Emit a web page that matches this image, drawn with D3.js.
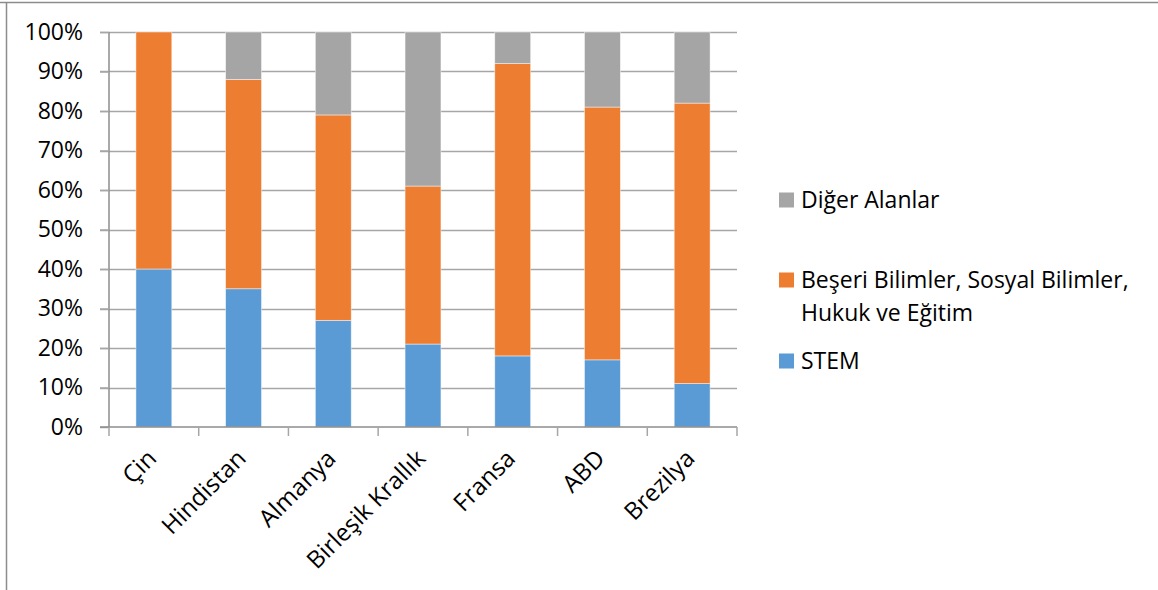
<!DOCTYPE html>
<html>
<head>
<meta charset="utf-8">
<script src="https://cdn.jsdelivr.net/npm/d3@7"></script>
<style>
  html, body { margin: 0; padding: 0; background: #fff; }
  svg { display: block; }
  text { font-family: "Open Sans", sans-serif; fill: #000; }
</style>
</head>
<body>
<div id="chart"></div>
<script>
// data, shares in percent
const countries = ["Çin", "Hindistan", "Almanya", "Birleşik Krallık", "Fransa", "ABD", "Brezilya"];
const stem = [40, 35, 27, 21, 18, 17, 11];
const beseri = [60, 53, 52, 40, 74, 64, 71];
const diger = [0, 12, 21, 39, 8, 19, 18];
const seriesNames = ["STEM", "Beşeri Bilimler, Sosyal Bilimler, Hukuk ve Eğitim", "Diğer Alanlar"];
const seriesColors = ["#5b9bd5", "#ed7d31", "#a5a5a5"];
const yTicks = [0, 10, 20, 30, 40, 50, 60, 70, 80, 90, 100];

const width = 1158, height = 590;
const margin = { top: 32, left: 109, right: 421, bottom: 163 };
const fontSize = 23;

const svg = d3.select("#chart").append("svg")
    .attr("width", width)
    .attr("height", height);

// outer frame (only top and left edges show in the shot)
svg.append("line").attr("x1", 0).attr("x2", width).attr("y1", 2.5).attr("y2", 2.5)
    .attr("stroke", "#8c8c8c").attr("stroke-width", 1.5);
svg.append("line").attr("x1", 6.5).attr("x2", 6.5).attr("y1", 2).attr("y2", height)
    .attr("stroke", "#8c8c8c").attr("stroke-width", 1.5);

const x = d3.scaleBand()
    .domain(countries)
    .range([margin.left, width - margin.right])
    .paddingInner(0.6)
    .paddingOuter(0.3);

const y = d3.scaleLinear()
    .domain([0, 100])
    .range([height - margin.bottom, margin.top]);

const table = countries.map((c, i) => ({ country: c, stem: stem[i], beseri: beseri[i], diger: diger[i] }));
const stacked = d3.stack().keys(["stem", "beseri", "diger"])(table);

// gridlines
svg.append("g")
    .selectAll("line")
    .data(yTicks.slice(1))
    .join("line")
    .attr("x1", margin.left - 9)
    .attr("x2", width - margin.right)
    .attr("y1", d => Math.round(y(d)) + 0.5)
    .attr("y2", d => Math.round(y(d)) + 0.5)
    .attr("stroke", "#a6a6a6")
    .attr("stroke-width", 1.5);

// bars
svg.append("g")
    .selectAll("g")
    .data(stacked)
    .join("g")
    .attr("fill", (d, i) => seriesColors[i])
    .selectAll("rect")
    .data(d => d.filter(s => s[1] - s[0] > 0))
    .join("rect")
    .attr("x", d => x(d.data.country))
    .attr("width", x.bandwidth())
    .attr("y", d => y(d[1]))
    .attr("height", d => y(d[0]) - y(d[1]))
    .attr("stroke", "#ffffff")
    .attr("stroke-opacity", 0.6)
    .attr("stroke-width", 0.75);

// y axis
const yAxis = d3.axisLeft(y)
    .tickValues(yTicks)
    .tickSize(9)
    .tickFormat(d => d + "%");
const yg = svg.append("g")
    .attr("transform", `translate(${margin.left},0)`)
    .call(yAxis);
yg.select(".domain").attr("stroke", "#8c8c8c").attr("stroke-width", 1.5)
    .attr("d", `M0,${y(100)}V${y(0)}`);
yg.selectAll(".tick line").attr("stroke", "#a6a6a6").attr("stroke-width", 1.5);
yg.selectAll(".tick text")
    .attr("x", -26)
    .attr("font-size", fontSize)
    .attr("font-family", "Open Sans, sans-serif");

// x axis: ticks between categories
const bounds = d3.range(countries.length + 1).map(i => margin.left + i * (width - margin.left - margin.right) / countries.length);
const xg = svg.append("g");
xg.append("line")
    .attr("x1", margin.left - 9).attr("x2", width - margin.right)
    .attr("y1", y(0)).attr("y2", y(0))
    .attr("stroke", "#8c8c8c").attr("stroke-width", 1.5);
xg.selectAll("line.tk")
    .data(bounds)
    .join("line")
    .attr("class", "tk")
    .attr("x1", d => d).attr("x2", d => d)
    .attr("y1", y(0)).attr("y2", y(0) + 9)
    .attr("stroke", "#a6a6a6").attr("stroke-width", 1.5);

xg.selectAll("text")
    .data(countries)
    .join("text")
    .attr("transform", d => `translate(${x(d) + x.bandwidth() / 2 - 2},${y(0) + 27}) rotate(-45)`)
    .attr("text-anchor", "end")
    .attr("dy", "0.35em")
    .attr("font-size", 24)
    .text(d => d);

// legend (top to bottom: reverse of stacking)
const legendItems = [
    { name: seriesNames[2], color: seriesColors[2], y: 200, lines: [seriesNames[2]] },
    { name: seriesNames[1], color: seriesColors[1], y: 280, lines: ["Beşeri Bilimler, Sosyal Bilimler,", "Hukuk ve Eğitim"] },
    { name: seriesNames[0], color: seriesColors[0], y: 361, lines: [seriesNames[0]] }
];
const lg = svg.append("g");
const li = lg.selectAll("g").data(legendItems).join("g")
    .attr("transform", d => `translate(779,${d.y})`);
li.append("rect")
    .attr("x", 0).attr("y", -7.5)
    .attr("width", 15).attr("height", 15)
    .attr("fill", d => d.color);
li.append("text")
    .attr("x", 22)
    .attr("font-size", fontSize)
    .selectAll("tspan")
    .data(d => d.lines)
    .join("tspan")
    .attr("x", 22)
    .attr("y", (d, i) => i * 33)
    .attr("dy", "0.35em")
    .text(d => d);
</script>
</body>
</html>
